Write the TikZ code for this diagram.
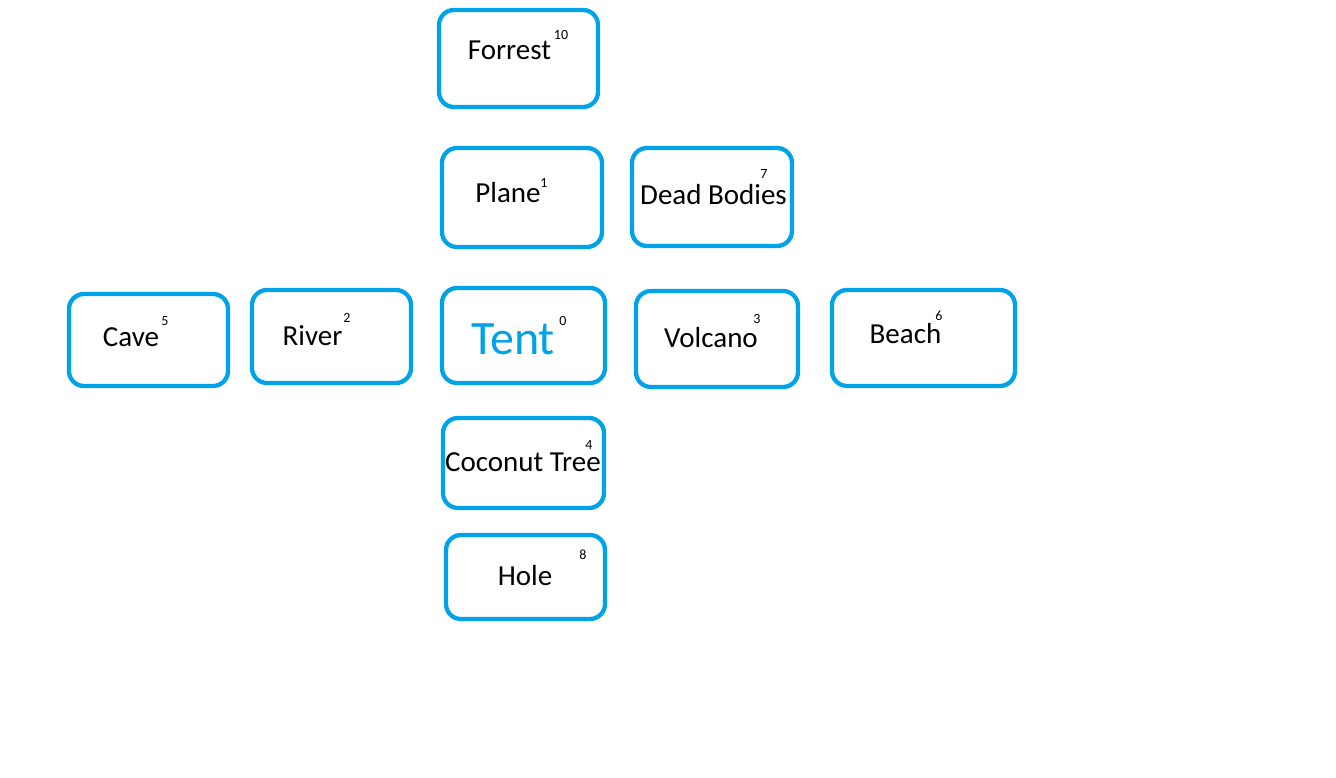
\documentclass[tikz,border=0pt]{standalone}
\usepackage{fontspec}
\setmainfont{Carlito}
\definecolor{boxblue}{HTML}{00A2E8}
\tikzset{
  box/.style={draw=boxblue, line width=4.3pt, rounded corners=15pt, minimum width=#1, inner sep=0pt},
  lbl/.style={anchor=base, inner sep=0pt, font=\fontsize{29}{31}\selectfont},
  sup/.style={anchor=center, inner sep=0pt, font=\fontsize{14}{15}\selectfont}
}
\begin{document}
\begin{tikzpicture}[x=1pt,y=-1pt]
\useasboundingbox (0,0) rectangle (1336,778);
% boxes
\node[box=159pt, minimum height=97pt] (bForrest) at (518.5,58.5) {};
\node[box=160pt, minimum height=99pt] (bPlane) at (522,197.5) {};
\node[box=160pt, minimum height=98pt] (bDead) at (712,197) {};
\node[box=159pt, minimum height=92pt] (bCave) at (148.5,340) {};
\node[box=159pt, minimum height=93pt] (bRiver) at (331.5,336.5) {};
\node[box=163pt, minimum height=95pt] (bTent) at (523.5,335.5) {};
\node[box=162pt, minimum height=96pt] (bVolcano) at (717,339) {};
\node[box=183pt, minimum height=96pt] (bBeach) at (923.5,338) {};
\node[box=161pt, minimum height=90pt] (bCoconut) at (523.5,463) {};
\node[box=159pt, minimum height=84pt] (bHole) at (525.5,577) {};
% labels
\node[lbl] (tForrest) at (509.5,60) {Forrest};
\node[lbl] (tPlane) at (508,203) {Plane};
\node[lbl] (tDead) at (713.5,205) {Dead Bodies};
\node[lbl] (tCave) at (131,346) {Cave};
\node[lbl] (tRiver) at (312.5,345) {River};
\node[lbl, text=boxblue, font=\fontsize{48}{50}\selectfont] (tTent) at (513,354) {Tent};
\node[lbl] (tVolcano) at (711,347) {Volcano};
\node[lbl] (tBeach) at (905.5,343) {Beach};
\node[lbl] (tCoconut) at (523,471) {Coconut Tree};
\node[lbl] (tHole) at (525,585) {Hole};
% numbers
\node[sup] (nForrest) at (561,35) {10};
\node[sup] (nPlane) at (544,183) {1};
\node[sup] (nDead) at (764,174) {7};
\node[sup] (nCave) at (165,321) {5};
\node[sup] (nRiver) at (347,318) {2};
\node[sup] (nTent) at (563,321) {0};
\node[sup] (nVolcano) at (757,319) {3};
\node[sup] (nBeach) at (939,316) {6};
\node[sup] (nCoconut) at (589,445) {4};
\node[sup] (nHole) at (583,555) {8};
\end{tikzpicture}
\end{document}
